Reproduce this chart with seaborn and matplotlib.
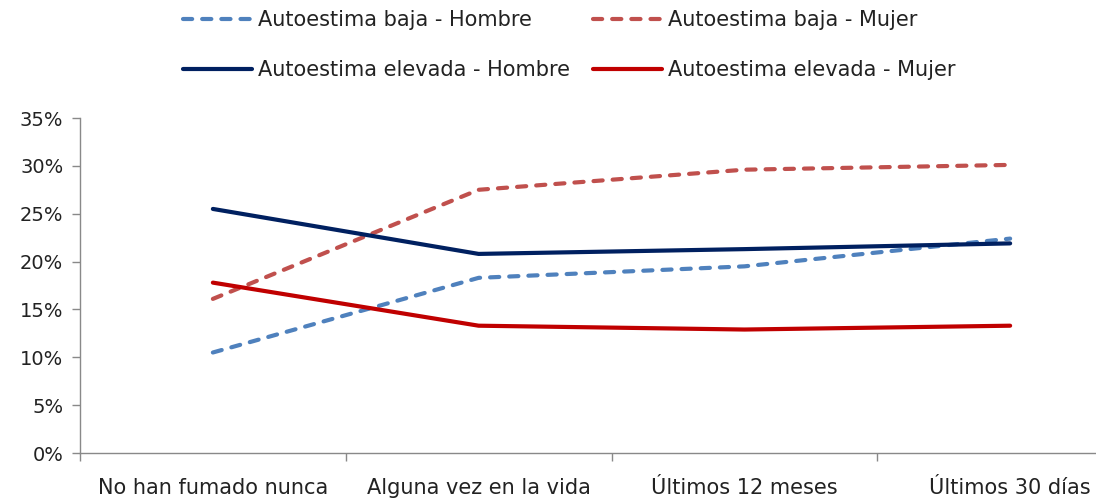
import matplotlib
matplotlib.use("Agg")
import matplotlib.pyplot as plt
import seaborn as sns
import pandas as pd
from matplotlib.ticker import FixedLocator, PercentFormatter

sns.set_theme(style="white")
plt.rcParams['font.family'] = ['DejaVu Sans']

categories = ["No han fumado nunca", "Alguna vez en la vida", "Últimos 12 meses", "Últimos 30 días"]
baja_hombre = [10.5, 18.3, 19.5, 22.4]
baja_mujer = [16.1, 27.5, 29.6, 30.1]
elevada_hombre = [25.5, 20.8, 21.3, 21.9]
elevada_mujer = [17.8, 13.3, 12.9, 13.3]
series_names = ["Autoestima baja - Hombre", "Autoestima baja - Mujer",
                "Autoestima elevada - Hombre", "Autoestima elevada - Mujer"]
yticks = [0, 5, 10, 15, 20, 25, 30, 35]

series_values = [baja_hombre, baja_mujer, elevada_hombre, elevada_mujer]
colors = ["#4F81BD", "#C0504D", "#002060", "#C00000"]
dashed = [True, True, False, False]

fig = plt.figure(figsize=(10.96, 4.98), dpi=100)
ax = fig.add_axes([80 / 1096, 1 - 453 / 498, 1063 / 1096, 335 / 498])

for name, vals, col, d in zip(series_names, series_values, colors, dashed):
    df = pd.DataFrame({"cat": categories, "val": vals})
    kw = dict(lw=3.0, color=col, label=name, ax=ax, sort=False, legend=False)
    if d:
        kw.update(dashes=(2.2, 2.4))
    sns.lineplot(data=df, x="cat", y="val", **kw)
lines = ax.get_lines()
for line in lines:
    line.set_dash_capstyle('round')
    line.set_solid_capstyle('round')

ax.set_xlim(-0.5, 3.5)
ax.set_ylim(0, 35)
ax.set_yticks(yticks)
ax.yaxis.set_major_formatter(PercentFormatter(decimals=0))
ax.set_xticks(range(len(categories)))
ax.set_xticklabels(categories)
ax.xaxis.set_minor_locator(FixedLocator([-0.5, 0.5, 1.5, 2.5]))
ax.set_xlabel("")
ax.set_ylabel("")

for s in ["top", "right"]:
    ax.spines[s].set_visible(False)
for s in ["left", "bottom"]:
    ax.spines[s].set_color("#898989")
    ax.spines[s].set_linewidth(1.0)

ax.tick_params(axis="y", which="major", direction="out", length=6, width=1,
               color="#898989", labelsize=14, labelcolor="#222222", pad=6, left=True)
ax.tick_params(axis="x", which="major", length=0, labelsize=15, labelcolor="#222222", pad=18)
ax.tick_params(axis="x", which="minor", direction="out", length=6, width=1,
               color="#898989", bottom=True)
ax.grid(False)

order = [0, 2, 1, 3]
fig.legend([lines[i] for i in order], [series_names[i] for i in order], ncol=2,
           loc="upper left", bbox_to_anchor=(183 / 1096, 1 - 10 / 498),
           frameon=False, fontsize=15, handlelength=3.3, handletextpad=0.3,
           columnspacing=1.1, labelspacing=1.45, labelcolor="#222222",
           borderpad=0, borderaxespad=0)

fig.savefig("out.png", dpi=100)
